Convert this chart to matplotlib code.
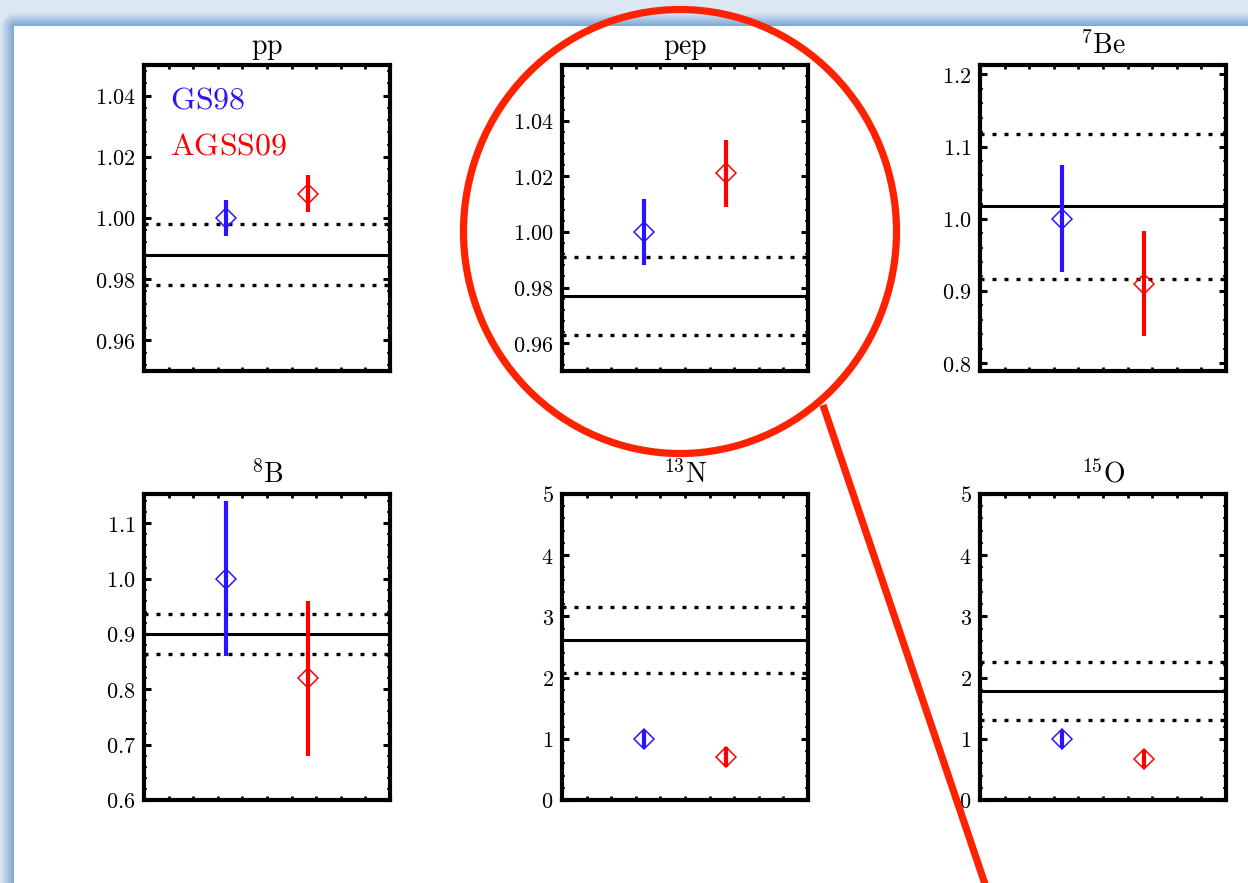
import numpy as np
import matplotlib
matplotlib.use('Agg')
import matplotlib.pyplot as plt
from matplotlib.patches import Ellipse
from matplotlib.lines import Line2D
from matplotlib.ticker import FixedLocator, MultipleLocator, AutoMinorLocator, FuncFormatter

plt.rcParams['mathtext.fontset'] = 'cm'
plt.rcParams['font.family'] = ['DejaVu Serif']

# ---------------- data ----------------
titles = [r'$\mathrm{pp}$', r'$\mathrm{pep}$', r'$^{7}\mathrm{Be}$',
          r'$^{8}\mathrm{B}$', r'$^{13}\mathrm{N}$', r'$^{15}\mathrm{O}$']
models = ['GS98', 'AGSS09']
model_x = [1, 2]

gs98_val = [1.000, 1.000, 1.000, 1.000, 1.00, 1.00]
gs98_err = [0.006, 0.012, 0.074, 0.140, 0.15, 0.15]
agss_val = [1.008, 1.021, 0.910, 0.820, 0.70, 0.67]
agss_err = [0.006, 0.012, 0.073, 0.140, 0.16, 0.15]
meas_val = [0.988, 0.977, 1.017, 0.900, 2.62, 1.78]
meas_err = [0.010, 0.014, 0.100, 0.037, 0.54, 0.48]

ylims = [(0.95, 1.05), (0.95, 1.06), (0.789, 1.213), (0.60, 1.153), (0, 5), (0, 5)]
yticks = [[0.96, 0.98, 1.00, 1.02, 1.04],
          [0.96, 0.98, 1.00, 1.02, 1.04],
          [0.8, 0.9, 1.0, 1.1, 1.2],
          [0.6, 0.7, 0.8, 0.9, 1.0, 1.1],
          [0, 1, 2, 3, 4, 5],
          [0, 1, 2, 3, 4, 5]]
tick_fmt = ['%.2f', '%.2f', '%.1f', '%.1f', '%d', '%d']

BLUE = '#2a14ff'
RED = '#ff0000'
ANN = '#ff2200'

W, H = 1248, 883
fig = plt.figure(figsize=(W / 100, H / 100), dpi=100)

# ---------------- slide background ----------------
bg = fig.add_axes([0, 0, 1, 1], zorder=-10)
yy, xx = np.mgrid[0:H, 0:W]
top_edge, left_edge = 26, 14
dy = np.clip(top_edge - yy, 0, None).astype(float)
dx = np.clip(left_edge - xx, 0, None).astype(float)
d = np.sqrt(dx ** 2 + dy ** 2)
t = np.clip((d - 1) / 13.0, 0, 1)[..., None]
light = np.array([0.86, 0.91, 0.96])
dark = np.array([0.50, 0.66, 0.83])
img = dark * (1 - t) + light * t
outside = ((yy < top_edge) | (xx < left_edge))[..., None]
img = np.where(outside, img, 1.0)
bg.imshow(img, extent=(0, W, H, 0), aspect='auto', interpolation='nearest')
bg.set_xlim(0, W)
bg.set_ylim(H, 0)
bg.axis('off')

# ---------------- panels ----------------
lefts_px = [144, 562, 980]
tops_px = [65, 494]
pw, ph = 246, 306

for i in range(6):
    r, c = divmod(i, 3)
    l = lefts_px[c] / W
    b = 1 - (tops_px[r] + ph) / H
    ax = fig.add_axes([l, b, pw / W, ph / H])
    ax.set_xlim(0, 3)
    ax.set_ylim(*ylims[i])

    m, e = meas_val[i], meas_err[i]
    ax.axhline(m, color='black', lw=2.2, zorder=2)
    for yv in (m - e, m + e):
        ax.axhline(yv, color='black', lw=2.4, linestyle=(0, (1.2, 2.4)),
                   dash_capstyle='butt', zorder=2)

    for xv, val, err, col in ((model_x[0], gs98_val[i], gs98_err[i], BLUE),
                              (model_x[1], agss_val[i], agss_err[i], RED)):
        ax.vlines(xv, val - err, val + err, color=col, lw=3.0, zorder=3)
        ax.plot([xv], [val], marker='D', ms=10.5, mfc='none', mec=col,
                mew=1.1, zorder=4, linestyle='none')

    ax.set_title(titles[i], fontsize=20, pad=8)

    ax.yaxis.set_major_locator(FixedLocator(yticks[i]))
    fmt = tick_fmt[i]
    ax.yaxis.set_major_formatter(FuncFormatter(lambda v, p, f=fmt: '$' + (f % v) + '$'))
    ax.yaxis.set_minor_locator(AutoMinorLocator(5))
    ax.xaxis.set_major_locator(MultipleLocator(0.3))
    ax.xaxis.set_major_formatter(FuncFormatter(lambda v, p: ''))
    ax.tick_params(axis='y', which='major', direction='in', length=5, width=2.2,
                   left=True, right=True, labelsize=16, pad=6)
    ax.tick_params(axis='y', which='minor', direction='in', length=2, width=1.2,
                   left=True, right=True)
    ax.tick_params(axis='x', which='major', direction='in', length=3, width=2,
                   top=True, bottom=True)
    for s in ax.spines.values():
        s.set_linewidth(3)

    if i == 0:
        ax.text(0.106, 0.886, r'$\mathrm{GS98}$', color=BLUE, fontsize=23,
                transform=ax.transAxes, va='center', ha='left')
        ax.text(0.106, 0.735, r'$\mathrm{AGSS09}$', color=RED, fontsize=23,
                transform=ax.transAxes, va='center', ha='left')

# ---------------- annotation overlay ----------------
ov = fig.add_axes([0, 0, 1, 1], zorder=20)
ov.set_xlim(0, W)
ov.set_ylim(H, 0)
ov.axis('off')
ov.patch.set_alpha(0)
ov.add_patch(Ellipse((680, 231.5), 433, 444, fill=False, edgecolor=ANN, lw=5.2))
ov.add_line(Line2D([823, 987], [405, 890], color=ANN, lw=5.2, solid_capstyle='butt'))

fig.savefig('out.png', dpi=100)
